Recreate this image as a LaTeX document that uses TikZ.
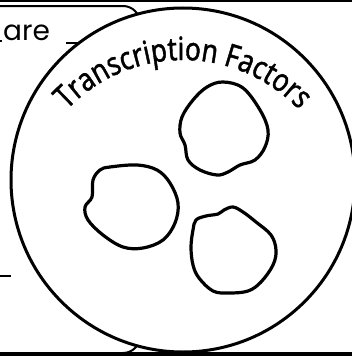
\documentclass[tikz,border=0pt]{standalone}
\usepackage{fontspec}
\setmainfont{Noto Sans}
\newfontfamily\arefont{Poppins}
\newfontfamily\arcfont[FakeStretch=0.82,FakeBold=1.2]{Noto Sans}
\usetikzlibrary{decorations.text,calc}
\tikzset{
  blob/.style={draw, line width=3.2pt, line join=round},
  blank/.style={line width=1.6pt},
}
\begin{document}
\begin{tikzpicture}[x=1pt,y=1pt]
\useasboundingbox (0,0) rectangle (352,-356);
\fill[white] (0,0) rectangle (352,-356);
% left panel (rounded rectangle, partly hidden)
\draw[line width=2pt, rounded corners=17pt] (-30,-6) -- (140,-6) -- (140,-353) -- (-30,-353);
\draw[blank] (-2,-41) -- (2,-41);
\node[anchor=base west, inner sep=0pt] (are) at (3,-40) {\arefont\fontsize{28}{28}\selectfont are};
\draw[blank] (66,-43) -- (90,-43);
\draw[blank] (-2,-276) -- (11,-276);
% big circle
\node[circle, draw, fill=white, line width=3pt, minimum size=344pt, inner sep=0pt] (cell) at (183,-180) {};
% frame lines
\draw[line width=3pt] (0,-0.5) -- (352,-0.5);
\draw[line width=4pt] (0,-354) -- (352,-354);
% curved title
\coordinate (tc) at (183,-220);
\path[decorate, decoration={text along path, text align=center,
  text={|\arcfont\fontsize{32}{32}\selectfont|Transcription Factors}}]
  ($(tc)+(147:160)$) arc[start angle=147, end angle=33, radius=160];
% blobs
\draw[blob] plot[smooth cycle, tension=0.6] coordinates {
 (223,-82) (243,-88) (260,-110) (268,-130) (265,-147) (255,-160) (240,-165)
 (228,-172) (217,-175) (200,-170) (188,-160) (185,-145) (180,-133) (182,-117)
 (193,-100) (207,-87)};
\draw[blob] plot[smooth cycle, tension=0.6] coordinates {
 (110,-167) (137,-165) (157,-170) (170,-183) (178,-203) (175,-223) (163,-240)
 (143,-248) (123,-247) (103,-235) (88,-220) (85,-207) (92,-197) (93,-180) (100,-170)};
\draw[blob] plot[smooth cycle, tension=0.6] coordinates {
 (196,-220) (206,-216) (218,-214) (224,-210) (233,-207) (243,-212) (256,-222)
 (271,-235) (276,-250) (273,-265) (261,-282) (248,-291) (229,-293) (213,-291)
 (199,-278) (193,-265) (191,-247) (193,-230)};
\end{tikzpicture}
\end{document}
